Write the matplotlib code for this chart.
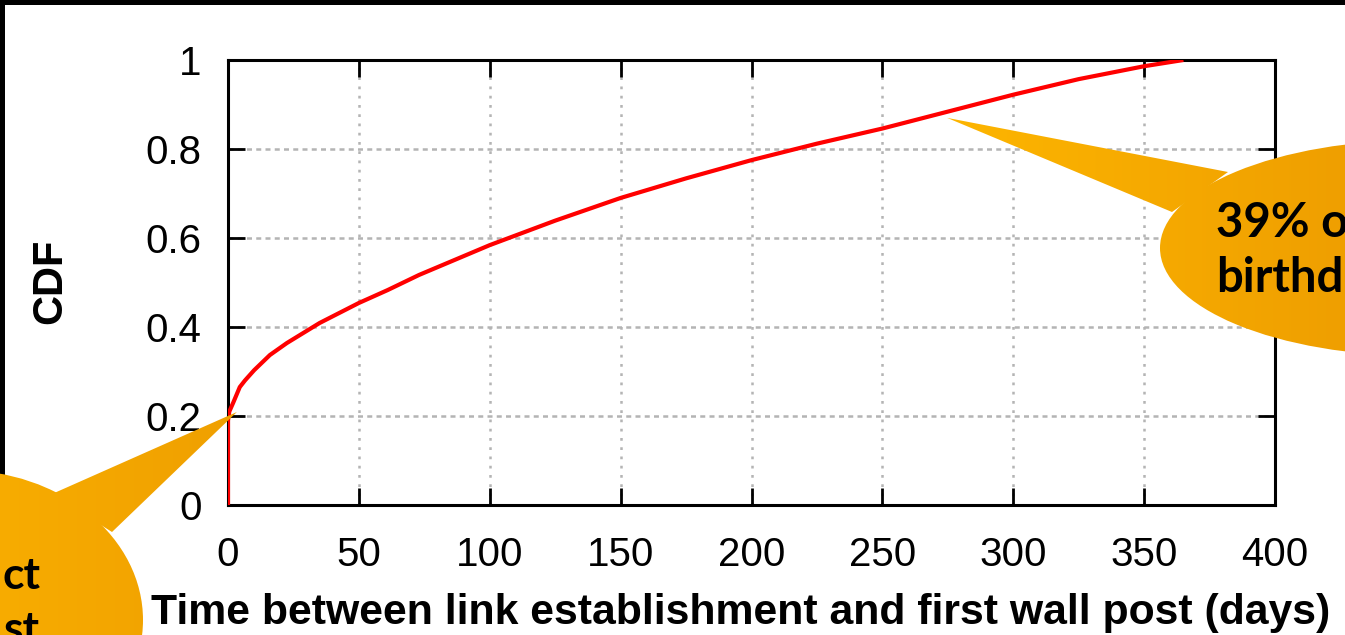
import numpy as np
import matplotlib.pyplot as plt
from matplotlib.patches import Ellipse, Polygon, Rectangle

# CDF (days, fraction)
days = [0, 0, 0.5, 2, 4.5, 6.5, 10, 16, 22.5, 35, 50, 61, 73, 100, 125,
        150, 175, 200, 225, 250, 275, 300, 325, 350, 365]
cdf = [0, 0.19, 0.21, 0.23, 0.265, 0.28, 0.303, 0.337, 0.364, 0.409, 0.454,
       0.483, 0.517, 0.584, 0.639, 0.69, 0.734, 0.775, 0.812, 0.846, 0.884,
       0.922, 0.957, 0.986, 1.0]

x_ticks = [0, 50, 100, 150, 200, 250, 300, 350, 400]
y_ticks = [0, 0.2, 0.4, 0.6, 0.8, 1.0]
y_tick_labels = ['0', '0.2', '0.4', '0.6', '0.8', '1']

# where the two callouts point (data coords)
tip_left = (3.4, 0.209)
tip_right = (274.7, 0.870)

W, H = 1345, 635
fig = plt.figure(figsize=(W / 100, H / 100), dpi=100)
fig.patch.set_facecolor('white')

ax = fig.add_axes([228 / W, 1 - 505 / H, (1275 - 228) / W, (505 - 60) / H])
ax.plot(days, cdf, color='#ff0000', lw=3, solid_capstyle='butt', zorder=3)
ax.set_xlim(0, 400)
ax.set_ylim(0, 1)
ax.set_xticks(x_ticks)
ax.set_yticks(y_ticks)
ax.set_yticklabels(y_tick_labels)
ax.tick_params(direction='in', length=12, width=2, top=True, right=True,
               labelsize=29, pad=19, colors='black')
ax.tick_params(axis='x', pad=22)
for lab in ax.get_xticklabels() + ax.get_yticklabels():
    lab.set_family('Liberation Sans')
for s in ax.spines.values():
    s.set_linewidth(2.2)
    s.set_color('black')
ax.xaxis.grid(True, color='#b4b4b4', lw=1.8, ls=(0, (1.1, 2.6)))
ax.yaxis.grid(True, color='#b4b4b4', lw=1.8, ls=(0, (2.0, 1.7)))
ax.set_axisbelow(True)
ax.set_xlabel('Time between link establishment and first wall post (days)',
              fontsize=30.8, fontweight='bold', family='Liberation Sans',
              labelpad=14, x=0.49)
ax.set_ylabel('CDF', fontsize=30, fontweight='bold', family='Liberation Sans')
ax.yaxis.set_label_coords(-0.151, 0.503)

# overlay in picture pixels (y down) for slide decorations
ov = fig.add_axes([0, 0, 1, 1], zorder=10)
ov.set_xlim(0, W)
ov.set_ylim(H, 0)
ov.axis('off')
ov.patch.set_alpha(0)

ov.add_patch(Rectangle((0, 0), W, 5, color='black', lw=0))
ov.add_patch(Rectangle((0, 0), 5, H, color='black', lw=0))


def to_ov(pt):
    disp = ax.transData.transform(pt)
    return ov.transData.inverted().transform(disp)


grad = np.linspace(0, 1, 256).reshape(1, -1)
cmap_orange = plt.matplotlib.colors.LinearSegmentedColormap.from_list(
    'bub', ['#ffb800', '#ef9f00'])


def bubble(center, a, b, base1, base2, tip, x0, x1):
    ell = Ellipse(center, 2 * a, 2 * b, facecolor='none', edgecolor='none')
    tri = Polygon([base1, tip, base2], closed=True, facecolor='none',
                  edgecolor='none')
    for p in (ell, tri):
        ov.add_patch(p)
        im = ov.imshow(grad, cmap=cmap_orange, aspect='auto',
                       extent=(x0, x1, H, 0), zorder=11)
        im.set_clip_path(p)
    ov.set_xlim(0, W)
    ov.set_ylim(H, 0)


bubble((-40, 620), 183, 150, (52, 494), (112, 532), to_ov(tip_left), -230, 250)
bubble((1420, 248), 260, 108, (1228, 172), (1172, 212), to_ov(tip_right), 900, 1345)

ov.text(40, 589, 'ct', fontsize=32, fontweight='bold', family='Lato',
        ha='right', va='baseline', zorder=12)
ov.text(40, 643, 'st', fontsize=32, fontweight='bold', family='Lato',
        ha='right', va='baseline', zorder=12)
ov.text(1216, 237, '39% o', fontsize=34, fontweight='bold', family='Lato',
        ha='left', va='baseline', zorder=12)
ov.text(1216, 292, 'birthd', fontsize=34, fontweight='bold', family='Lato',
        ha='left', va='baseline', zorder=12)

fig.savefig('out.png', dpi=100)
